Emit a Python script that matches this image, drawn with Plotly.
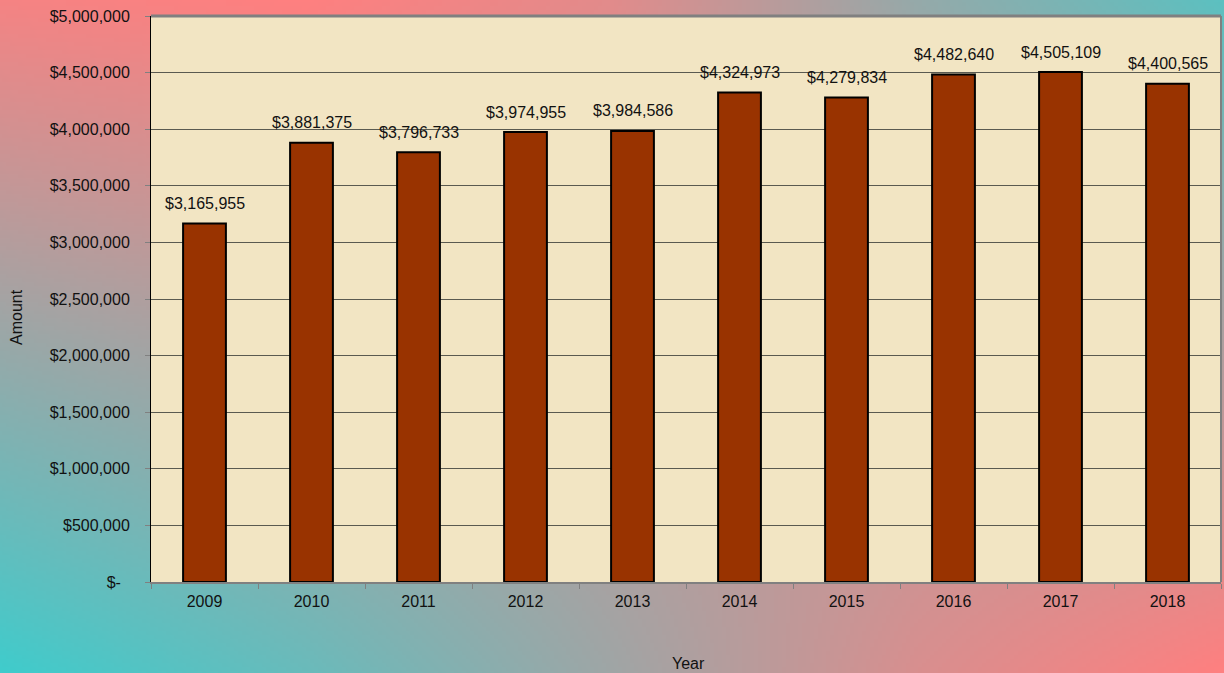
import base64
import struct
import zlib

import numpy as np
import plotly.graph_objects as go

# Annual amounts
years = ["2009", "2010", "2011", "2012", "2013", "2014", "2015", "2016", "2017", "2018"]
amounts = [3165955, 3881375, 3796733, 3974955, 3984586, 4324973, 4279834, 4482640, 4505109, 4400565]

# Y axis ticks
y_tickvals = [0, 500000, 1000000, 1500000, 2000000, 2500000, 3000000, 3500000, 4000000, 4500000, 5000000]
y_ticktext = ["$-\u00a0\u00a0"] + [f"${v:,.0f}" for v in y_tickvals[1:]]

FONT = "Liberation Sans, Arial, sans-serif"
W, H = 1224, 673

# Plot area in pixels
left, right, top, bottom = 151, 1221, 16, 582


def gradient_png(w, h):
    """Salmon/teal background blend as a PNG data URI."""
    salmon = np.array([255, 128, 128], dtype=float)
    teal = np.array([64, 204, 204], dtype=float)
    u = np.linspace(0, 1, w)
    v = np.linspace(0, 1, h)[:, None]
    # blend amount along the top and bottom edges (0 = salmon, 1 = teal)
    t_top = np.interp(u, [0, 0.25, 0.5, 0.75, 1], [0.05, 0.0, 0.15, 0.55, 0.85])
    t_bot = np.interp(u, [0, 0.25, 0.5, 0.75, 1], [1.0, 0.78, 0.5, 0.2, 0.0])
    t = t_top[None, :] * (1 - v) + t_bot[None, :] * v
    img = salmon * (1 - t[..., None]) + teal * t[..., None]
    img = np.clip(img, 0, 255).astype(np.uint8)
    raw = b"".join(b"\x00" + img[r].tobytes() for r in range(h))

    def chunk(tag, data):
        return (struct.pack(">I", len(data)) + tag + data
                + struct.pack(">I", zlib.crc32(tag + data) & 0xFFFFFFFF))

    png = (b"\x89PNG\r\n\x1a\n"
           + chunk(b"IHDR", struct.pack(">IIBBBBB", w, h, 8, 2, 0, 0, 0))
           + chunk(b"IDAT", zlib.compress(raw, 9))
           + chunk(b"IEND", b""))
    return "data:image/png;base64," + base64.b64encode(png).decode()


fig = go.Figure()

fig.add_trace(go.Bar(
    x=years, y=amounts,
    marker=dict(color="#993300", line=dict(color="#000000", width=2)),
    width=0.4,
    hoverinfo="x+y",
))

# value labels above each bar (category index positions)
annotations = [
    dict(x=i, y=v, xref="x", yref="y", text=f"${v:,.0f}", showarrow=False,
         yanchor="middle", yshift=20, font=dict(family=FONT, size=16, color="#111111"))
    for i, v in enumerate(amounts)
]
annotations += [
    dict(x=16 / W, y=1 - 317 / H, xref="paper", yref="paper", text="Amount", textangle=-90,
         showarrow=False, xanchor="center", yanchor="middle",
         font=dict(family=FONT, size=16, color="#111111")),
    dict(x=688 / W, y=1 - 663 / H, xref="paper", yref="paper", text="Year",
         showarrow=False, xanchor="center", yanchor="middle",
         font=dict(family=FONT, size=16, color="#111111")),
]

x0p, x1p = left / W, right / W
y0p, y1p = 1 - bottom / H, 1 - top / H

fig.update_layout(
    width=W, height=H,
    margin=dict(l=0, r=0, t=0, b=0, autoexpand=False),
    paper_bgcolor="#A8A6A6",
    plot_bgcolor="rgba(0,0,0,0)",
    showlegend=False,
    font=dict(family=FONT, size=16, color="#111111"),
    images=[dict(source=gradient_png(306, 168), xref="paper", yref="paper",
                 x=0, y=1, sizex=1, sizey=1, sizing="stretch",
                 xanchor="left", yanchor="top", layer="below")],
    xaxis=dict(
        domain=[x0p, x1p],
        type="category", categoryorder="array", categoryarray=years,
        range=[-0.5, len(years) - 0.5], tickson="boundaries",
        ticks="outside", ticklen=5, tickcolor="#808080", tickwidth=1,
        showgrid=False, showline=True, linecolor="#808080", linewidth=2,
        ticklabelstandoff=4, tickangle=0, automargin=False,
        tickfont=dict(family=FONT, size=16, color="#111111"),
    ),
    yaxis=dict(
        domain=[y0p, y1p],
        range=[0, 5000000], tickvals=y_tickvals, ticktext=y_ticktext,
        ticks="outside", ticklen=5, tickcolor="#808080", tickwidth=1,
        showgrid=True, gridcolor="#5A5A50", gridwidth=1,
        showline=True, linecolor="#000000", linewidth=1,
        zeroline=False, ticklabelstandoff=12, automargin=False,
        tickfont=dict(family=FONT, size=16, color="#111111"),
    ),
    annotations=annotations,
    shapes=[
        # parchment-coloured plot area
        dict(type="rect", xref="paper", yref="paper", x0=x0p, x1=x1p, y0=y0p, y1=y1p,
             fillcolor="#F2E5C3", line=dict(width=0), layer="below"),
        # grey frame on top and right
        dict(type="line", xref="paper", yref="paper", x0=x0p, x1=x1p, y0=y1p, y1=y1p,
             line=dict(color="#808080", width=3)),
        dict(type="line", xref="paper", yref="paper", x0=x1p, x1=x1p, y0=y0p, y1=y1p,
             line=dict(color="#808080", width=2)),
    ],
)

fig.write_html("out.html", post_script="document.body.style.margin='0';")
